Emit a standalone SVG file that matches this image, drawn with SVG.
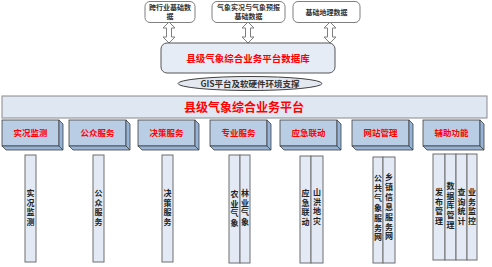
<svg xmlns="http://www.w3.org/2000/svg" width="492" height="267" viewBox="0 0 492 267">
<defs>
<style>
.src{fill:#fff;stroke:#7f7f7f;stroke-width:1}
.srct{font-family:"Noto Sans CJK SC","Liberation Sans",sans-serif;font-size:7px;font-weight:bold;fill:#333;text-anchor:middle}
.arr{fill:#fff;stroke:#7f7f7f;stroke-width:1}
.red{font-family:"Noto Sans CJK SC","Liberation Sans",sans-serif;font-weight:bold;fill:#ff0000;text-anchor:middle}
.front{fill:#b9cde5;stroke:#404040;stroke-width:0.8}
.side{fill:#95b3d7;stroke:#404040;stroke-width:0.8}
.col{fill:#e3eaf5;stroke:#6f6f6f;stroke-width:1}
.ct{font-family:"Noto Sans CJK SC","Liberation Sans",sans-serif;font-size:8px;font-weight:bold;fill:#222;text-anchor:middle}
</style>
<path id="dArr" class="arr" d="M0,0 L6,6 L2.5,6 L2.5,15 L6,15 L0,21 L-6,15 L-2.5,15 L-2.5,6 L-6,6 Z"/>
<g id="bevel">
<rect class="front" x="0" y="0" width="57" height="26"/>
<path class="side" d="M57,0 L61,4 L61,30 L57,26 Z"/>
<path class="side" d="M0,26 L57,26 L61,30 L4,30 Z"/>
</g>
</defs>
<rect width="492" height="267" fill="#fff"/>

<g id="src1"><rect class="src" x="145" y="1.5" width="50" height="21" rx="5"/><text class="srct" x="170" y="10">跨行业基础数</text><text class="srct" x="170" y="19">据</text></g>
<g id="src2"><rect class="src" x="212" y="1.5" width="73" height="21" rx="5"/><text class="srct" x="248.5" y="10">气象实况与气象预报</text><text class="srct" x="248.5" y="19">基础数据</text></g>
<g id="src3"><rect class="src" x="293" y="1.5" width="67" height="21" rx="5"/><text class="srct" x="326.5" y="15">基础地理数据</text></g>

<g id="connectors">
<use href="#dArr" x="169" y="22"/>
<use href="#dArr" x="248" y="22"/>
<use href="#dArr" x="330" y="22"/>
</g>

<g id="db"><rect x="161" y="43" width="174" height="30" rx="6" fill="#e6ecf6" stroke="#555" stroke-width="1"/><text class="red" x="248" y="61.5" font-size="9.5">县级气象综合业务平台数据库</text></g>

<g id="gis"><ellipse cx="250" cy="83.5" rx="72" ry="7" fill="#e4e8f0" stroke="#404040" stroke-width="1"/><text x="250" y="87" font-family="'Noto Sans CJK SC','Liberation Sans',sans-serif" font-size="8.5" font-weight="bold" fill="#333" text-anchor="middle">GIS平台及软硬件环境支撑</text></g>

<g id="platform"><rect x="2" y="96" width="485" height="22" fill="#dfe7f3" stroke="#8a8a8a" stroke-width="1"/><text class="red" x="244" y="111.5" font-size="12">县级气象综合业务平台</text></g>

<g id="m1"><use href="#bevel" x="2" y="120"/><text class="red" x="30.5" y="136" font-size="8.5">实况监测</text></g>
<g id="m2"><use href="#bevel" x="69" y="120"/><text class="red" x="97.5" y="136" font-size="8.5">公众服务</text></g>
<g id="m3"><use href="#bevel" x="138" y="120"/><text class="red" x="166.5" y="136" font-size="8.5">决策服务</text></g>
<g id="m4"><use href="#bevel" x="210" y="120"/><text class="red" x="238.5" y="136" font-size="8.5">专业服务</text></g>
<g id="m5"><use href="#bevel" x="280" y="120"/><text class="red" x="308.5" y="136" font-size="8.5">应急联动</text></g>
<g id="m6"><use href="#bevel" x="352" y="120"/><text class="red" x="380.5" y="136" font-size="8.5">网站管理</text></g>
<g id="m7"><use href="#bevel" x="423" y="120"/><text class="red" x="451.5" y="136" font-size="8.5">辅助功能</text></g>

<g id="c1"><rect class="col" x="25" y="155" width="11" height="107"/><text class="ct"><tspan x="30.5" y="196">实</tspan><tspan x="30.5" dy="9.7">况</tspan><tspan x="30.5" dy="9.7">监</tspan><tspan x="30.5" dy="9.7">测</tspan></text></g>
<g id="c2"><rect class="col" x="93" y="155" width="11" height="107"/><text class="ct"><tspan x="98.5" y="196">公</tspan><tspan x="98.5" dy="9.7">众</tspan><tspan x="98.5" dy="9.7">服</tspan><tspan x="98.5" dy="9.7">务</tspan></text></g>
<g id="c3"><rect class="col" x="162" y="155" width="11" height="107"/><text class="ct"><tspan x="167.5" y="196">决</tspan><tspan x="167.5" dy="9.7">策</tspan><tspan x="167.5" dy="9.7">服</tspan><tspan x="167.5" dy="9.7">务</tspan></text></g>
<g id="c4a"><rect class="col" x="229" y="155" width="11" height="108"/><text class="ct"><tspan x="234.5" y="197">农</tspan><tspan x="234.5" dy="9.7">业</tspan><tspan x="234.5" dy="9.7">气</tspan><tspan x="234.5" dy="9.7">象</tspan></text></g>
<g id="c4b"><rect class="col" x="240" y="155" width="10" height="108"/><text class="ct"><tspan x="245" y="196">林</tspan><tspan x="245" dy="9.7">业</tspan><tspan x="245" dy="9.7">气</tspan><tspan x="245" dy="9.7">象</tspan></text></g>
<g id="c5a"><rect class="col" x="300" y="156" width="11" height="107"/><text class="ct"><tspan x="305.5" y="196">应</tspan><tspan x="305.5" dy="9.7">急</tspan><tspan x="305.5" dy="9.7">联</tspan><tspan x="305.5" dy="9.7">动</tspan></text></g>
<g id="c5b"><rect class="col" x="311" y="156" width="12" height="107"/><text class="ct"><tspan x="317" y="195">山</tspan><tspan x="317" dy="9.7">洪</tspan><tspan x="317" dy="9.7">地</tspan><tspan x="317" dy="9.7">灾</tspan></text></g>
<g id="c6a"><rect class="col" x="373" y="157" width="10" height="106"/><text class="ct"><tspan x="378" y="181">公</tspan><tspan x="378" dy="9.9">共</tspan><tspan x="378" dy="9.9">气</tspan><tspan x="378" dy="9.9">象</tspan><tspan x="378" dy="9.9">服</tspan><tspan x="378" dy="9.9">务</tspan><tspan x="378" dy="9.9">网</tspan></text></g>
<g id="c6b"><rect class="col" x="383" y="157" width="12" height="106"/><text class="ct"><tspan x="389" y="180">乡</tspan><tspan x="389" dy="9.9">镇</tspan><tspan x="389" dy="9.9">信</tspan><tspan x="389" dy="9.9">息</tspan><tspan x="389" dy="9.9">服</tspan><tspan x="389" dy="9.9">务</tspan><tspan x="389" dy="9.9">网</tspan></text></g>
<g id="c7a"><rect class="col" x="433" y="154" width="12" height="106"/><text class="ct"><tspan x="439" y="195">发</tspan><tspan x="439" dy="9.7">布</tspan><tspan x="439" dy="9.7">管</tspan><tspan x="439" dy="9.7">理</tspan></text></g>
<g id="c7b"><rect class="col" x="445" y="154" width="11" height="106"/><text class="ct"><tspan x="450.5" y="189">数</tspan><tspan x="450.5" dy="9.7">据</tspan><tspan x="450.5" dy="9.7">库</tspan><tspan x="450.5" dy="9.7">管</tspan><tspan x="450.5" dy="9.7">理</tspan></text></g>
<g id="c7c"><rect class="col" x="456" y="154" width="11" height="106"/><text class="ct"><tspan x="461.5" y="195">查</tspan><tspan x="461.5" dy="9.7">询</tspan><tspan x="461.5" dy="9.7">统</tspan><tspan x="461.5" dy="9.7">计</tspan></text></g>
<g id="c7d"><rect class="col" x="467" y="154" width="10" height="106"/><text class="ct"><tspan x="472" y="195">业</tspan><tspan x="472" dy="9.7">务</tspan><tspan x="472" dy="9.7">监</tspan><tspan x="472" dy="9.7">控</tspan></text></g>
</svg>
